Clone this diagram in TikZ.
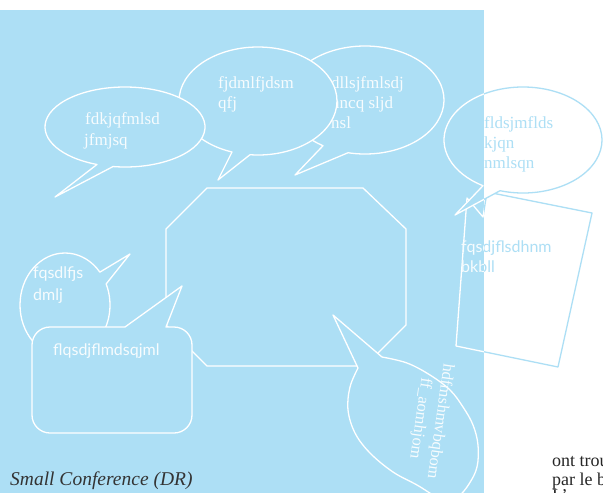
\documentclass[tikz,border=0pt]{standalone}
\usepackage{fontspec}
\setmainfont{Liberation Serif}
\newfontfamily\serfont{Liberation Serif}
\newfontfamily\optfont{Lato}
\definecolor{skyb}{RGB}{173,223,245}
\colorlet{scfg}{white}
\colorlet{scbg}{skyb}
\colorlet{sctx}{white!90!skyb}
\newif\ifbluepass
\tikzset{
  shp/.style={draw=scfg, fill=scbg, line width=1.3pt, line join=round},
  sertext/.style={text=sctx, anchor=base west, inner sep=0pt, font=\serfont\fontsize{17}{20}\selectfont},
  santext/.style={text=sctx, anchor=base west, inner sep=0pt, font=\optfont\fontsize{16}{20}\selectfont},
}
\newcommand\drawscene{%
  % central octagon
  \draw[shp] (207,188) -- (363,188) -- (406,229) -- (406,325) -- (365,366) -- (207,366) -- (166,325) -- (166,229) -- cycle;
  % ellipse 3
  \draw[shp] (365,100) ++(257.6:79pt and 54pt) arc[start angle=257.6, end angle=597.9, x radius=79pt, y radius=54pt] -- (295,175) -- cycle;
  \ifbluepass
  \node[sertext] (e3a) at (331,88) {dllsjfmlsdj};
  \node[sertext] (e3b) at (331,108) {nncq sljd};
  \node[sertext] (e3c) at (331,128) {nsl};
  \fi
  % ellipse 2
  \draw[shp] (258,101) ++(264.2:79pt and 54pt) arc[start angle=264.2, end angle=610.8, x radius=79pt, y radius=54pt] -- (218,180) -- cycle;
  \ifbluepass
  \node[sertext] (e2a) at (218,88) {fjdmlfjdsm};
  \node[sertext] (e2b) at (218,108) {qfj};
  \fi
  % ellipse 1
  \draw[shp] (125,127) ++(261.4:80pt and 40pt) arc[start angle=261.4, end angle=609.5, x radius=80pt, y radius=40pt] -- (55,197) -- cycle;
  \ifbluepass
  \node[sertext] (e1a) at (85,124) {fdkjqfmlsd};
  \node[sertext] (e1b) at (84,145) {jfmjsq};
  \fi
  % small round bubble
  \draw[shp] (65,305) ++(39.2:45pt and 52pt) arc[start angle=39.2, end angle=383.9, x radius=45pt, y radius=52pt] -- (130,254) -- cycle;
  \ifbluepass
  \node[santext] (sba) at (33,278) {fqsdlfjs};
  \node[santext] (sbb) at (33,300) {dmlj};
  \fi
  % rounded rectangle bubble
  \draw[shp] (166,327) -- (174,327) arc[start angle=90, end angle=0, radius=18pt] -- (192,415)
    arc[start angle=0, end angle=-90, radius=18pt] -- (50,433)
    arc[start angle=-90, end angle=-180, radius=18pt] -- (32,345)
    arc[start angle=180, end angle=90, radius=18pt] -- (125,327) -- (182,286) -- cycle;
  \ifbluepass
  \node[santext] (rra) at (53,355) {flqsdjflmdsqjml};
  \fi
  % tilted bubble at bottom
  \draw[shp] (333,315) -- plot[smooth, tension=0.6] coordinates {(382,357) (407,363) (430,375) (450,390) (463,407) (473,425) (478,445) (477,467) (469,484) (458,497) (446,502) (433,495) (417,485) (393,472) (370,453) (355,433) (348,410) (350,387) (358,368)} -- cycle;
  \ifbluepass
  \node[text=sctx, inner sep=0pt, align=center, rotate=-98, font=\serfont\fontsize{16.5}{20}\selectfont] (tb) at (430,420) {hdfmshmvbqbom\\ff\_aomhjom};
  \fi
  % tilted rectangle callout
  \draw[shp] (487,192) -- (592,213) -- (558,367) -- (456,346) -- (467,198) -- (483,217) -- cycle;
  \node[santext] (rca) at (461,252) {fqsdjflsdhnm};
  \node[santext] (rcb) at (461,272) {bkbll};
  % right ellipse
  \draw[shp] (523,140) ++(253.1:79pt and 53pt) arc[start angle=253.1, end angle=599.6, x radius=79pt, y radius=53pt] -- (455,215) -- cycle;
  \ifbluepass\else
  \node[sertext] (ra) at (484,128) {fldsjmflds};
  \node[sertext] (rb) at (484,148) {kjqn};
  \node[sertext] (rc) at (484,168) {nmlsqn};
  \fi
}
\begin{document}
\begin{tikzpicture}[x=1pt,y=-1pt]
\useasboundingbox (0,0) rectangle (603,493);
\clip (0,0) rectangle (603,493);
\fill[white] (0,0) rectangle (603,493);
\fill[skyb] (0,10) rectangle (484,493);
\begin{scope}
  \clip (0,10) rectangle (484,493);
  \bluepasstrue
  \drawscene
\end{scope}
\begin{scope}
  \clip (484,0) rectangle (603,493);
  \bluepassfalse
  \colorlet{scfg}{skyb}\colorlet{scbg}{white}\colorlet{sctx}{skyb}
  \drawscene
\end{scope}
\node[anchor=base west, inner sep=0pt, text=black!80, font=\serfont\itshape\fontsize{19.5}{22}\selectfont] (cap) at (10,485) {Small Conference (DR)};
\node[anchor=base west, inner sep=0pt, text=black!85, font=\serfont\fontsize{18}{19}\selectfont] (t1) at (552,466) {ont trou};
\node[anchor=base west, inner sep=0pt, text=black!85, font=\serfont\fontsize{18}{19}\selectfont] (t2) at (552,485) {par le b};
\node[anchor=base west, inner sep=0pt, text=black!85, font=\serfont\fontsize{18}{19}\selectfont] (t3) at (552,501) {L’};
\end{tikzpicture}
\end{document}
